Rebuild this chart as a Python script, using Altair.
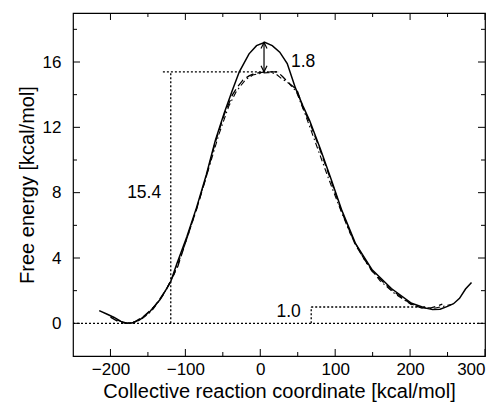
import altair as alt
import pandas as pd

# ---- data ----
sol_x = [-215, -205, -195, -186, -178, -170, -160, -147, -134, -120, -111, -98, -85, -72, -60, -48, -37, -28, -15, -5, 6, 16, 26, 36, 47, 57, 66, 80, 94, 109, 127, 149, 175, 202, 221, 230, 240, 250, 258, 266, 274, 282]
sol_y = [0.78, 0.57, 0.36, 0.12, 0.0, 0.04, 0.24, 0.74, 1.44, 2.5, 3.7, 5.3, 7.1, 9.1, 11.2, 12.9, 14.3, 15.4, 16.5, 17.0, 17.2, 17.0, 16.6, 15.9, 14.4, 13.3, 12.4, 10.7, 8.9, 6.9, 4.9, 3.3, 2.13, 1.23, 0.93, 0.84, 0.86, 1.04, 1.2, 1.53, 2.1, 2.5]

dash_x = [-200, -190, -180, -168, -155, -140, -125, -110, -98, -85, -72, -60, -48, -37, -30, -23, -15, -8, 0, 8, 16, 23, 30, 35, 41, 49, 57, 66, 80, 94, 109, 127, 149, 175, 202, 215, 228, 236, 243]
dash_y = [0.38, 0.12, 0.0, 0.08, 0.45, 1.1, 2.1, 3.5, 5.2, 7.0, 9.0, 11.1, 12.8, 14.0, 14.5, 14.9, 15.15, 15.3, 15.35, 15.4, 15.4, 15.4, 15.1, 14.85, 14.6, 14.3, 13.2, 12.3, 10.6, 8.8, 6.8, 4.8, 3.2, 2.05, 1.15, 0.95, 0.95, 1.05, 1.17]

dd_x = [-192, -182, -172, -160, -145, -130, -115, -100, -85, -70, -55, -42, -32, -20, -10, 0, 10, 20, 28, 38, 48, 60, 75, 90, 105, 120, 140, 160, 180, 200, 215, 230, 245, 255]
dd_y = [0.22, 0.04, 0.02, 0.2, 0.75, 1.7, 3.0, 4.9, 7.0, 9.3, 11.6, 13.3, 14.2, 14.9, 15.2, 15.3, 15.35, 15.3, 15.0, 14.7, 14.2, 12.8, 10.9, 9.0, 7.2, 5.5, 3.8, 2.6, 1.8, 1.2, 0.95, 0.9, 1.05, 1.15]

# dotted guide segments (x, x2, y, y2)
guide_x = [-130, -119.5, -250, 68, 68]
guide_x2 = [25, -119.5, 300, 68, 222]
guide_y = [15.4, 0, 0, 0, 1.0]
guide_y2 = [15.4, 15.4, 0, 1.0, 1.0]

# barrier-difference arrow
arrow_x = [5]
arrow_lo = [15.4]
arrow_hi = [17.2]

# annotation labels
lab_1_8 = ("1.8", 41, 16.0)
lab_15_4 = ("15.4", -155, 8.0)
lab_1_0 = ("1.0", 54, 0.7)

x_major = [-200, -100, 0, 100, 200, 300]
x_minor = [-150, -50, 50, 150, 250]
y_major = [0, 4, 8, 12, 16]
y_minor = [2, 6, 10, 14, 18]

x_domain = [-250, 300]
y_domain = [-2, 19]

x_title = "Collective reaction coordinate [kcal/mol]"
y_title = "Free energy [kcal/mol]"

# ---- chart ----
W, H = 412, 343
FONT = "Liberation Sans"

xs = alt.Scale(domain=x_domain, nice=False, zero=False)
ys = alt.Scale(domain=y_domain, nice=False, zero=False)

x_axis = alt.Axis(values=x_major, title=x_title, ticks=False, domain=False, grid=False,
                  labelPadding=5, titlePadding=4)
y_axis = alt.Axis(values=y_major, title=y_title, ticks=False, domain=False, grid=False,
                  labelPadding=12, titlePadding=5)

X = lambda f="x": alt.X(f"{f}:Q", scale=xs, axis=x_axis)
Y = lambda f="y": alt.Y(f"{f}:Q", scale=ys, axis=y_axis)

sol = pd.DataFrame({"x": sol_x, "y": sol_y})
dsh = pd.DataFrame({"x": dash_x, "y": dash_y})
ddf = pd.DataFrame({"x": dd_x, "y": dd_y})

l_sol = alt.Chart(sol).mark_line(color="black", strokeWidth=1.5).encode(x=X(), y=Y())
l_dsh = alt.Chart(dsh).mark_line(color="black", strokeWidth=1.3, strokeDash=[8, 4]).encode(x=X(), y=Y())
l_dd = alt.Chart(ddf).mark_line(color="black", strokeWidth=1.1, strokeDash=[6, 3, 1.5, 3]).encode(x=X(), y=Y())

gd = pd.DataFrame({"x": guide_x, "x2": guide_x2, "y": guide_y, "y2": guide_y2})
guides = alt.Chart(gd).mark_rule(color="black", strokeWidth=1.3, strokeDash=[2, 2]).encode(
    x=X(), x2="x2:Q", y=Y(), y2="y2:Q")

ad = pd.DataFrame({"x": arrow_x, "y": arrow_lo, "y2": arrow_hi})
arrow = alt.Chart(ad).mark_rule(color="black", strokeWidth=1.2).encode(x=X(), y=Y(), y2="y2:Q")
head_up = alt.Chart(pd.DataFrame({"x": arrow_x, "y": arrow_hi})).mark_point(
    shape="M -0.5 1 L 0 0 L 0.5 1", size=144, filled=False, color="black", strokeWidth=1.2, opacity=1
).encode(x=X(), y=Y())
head_dn = alt.Chart(pd.DataFrame({"x": arrow_x, "y": arrow_lo})).mark_point(
    shape="M -0.5 -1 L 0 0 L 0.5 -1", size=144, filled=False, color="black", strokeWidth=1.2, opacity=1
).encode(x=X(), y=Y())

def label(t, align):
    df = pd.DataFrame({"t": [t[0]], "x": [t[1]], "y": [t[2]]})
    return alt.Chart(df).mark_text(font=FONT, fontSize=17.5, align=align, baseline="middle",
                                   color="black").encode(x=X(), y=Y(), text="t:N")

t1 = label(lab_1_8, "left")
t2 = label(lab_15_4, "center")
t3 = label(lab_1_0, "right")

# inward ticks on all four sides
def yticks(vals, length):
    df = pd.DataFrame({"y": vals})
    left = alt.Chart(df).mark_rule(color="black", strokeWidth=1).encode(
        y=Y(), x=alt.value(0), x2=alt.value(length))
    right = alt.Chart(df).mark_rule(color="black", strokeWidth=1).encode(
        y=Y(), x=alt.value(W - length), x2=alt.value(W))
    return [left, right]

def xticks(vals, length):
    df = pd.DataFrame({"x": vals})
    bot = alt.Chart(df).mark_rule(color="black", strokeWidth=1).encode(
        x=X(), y=alt.value(H - length), y2=alt.value(H))
    top = alt.Chart(df).mark_rule(color="black", strokeWidth=1).encode(
        x=X(), y=alt.value(0), y2=alt.value(length))
    return [bot, top]

tick_layers = yticks(y_major, 7) + yticks(y_minor, 4) + xticks(x_major, 7) + xticks(x_minor, 4)

chart = alt.layer(
    l_sol, guides, l_dsh, l_dd, arrow, head_up, head_dn, t1, t2, t3, *tick_layers
).properties(
    width=W, height=H,
    autosize=alt.AutoSizeParams(type="none"),
    padding={"left": 65, "top": 5, "right": 10, "bottom": 46},
    background="white",
).configure_view(
    stroke="black", strokeWidth=1.2
).configure_axis(
    labelFont=FONT, titleFont=FONT, labelFontSize=17, titleFontSize=20,
    titleFontWeight="normal", labelColor="black", titleColor="black",
)

chart.save("out.html", embed_options={"renderer": "svg", "actions": False})
